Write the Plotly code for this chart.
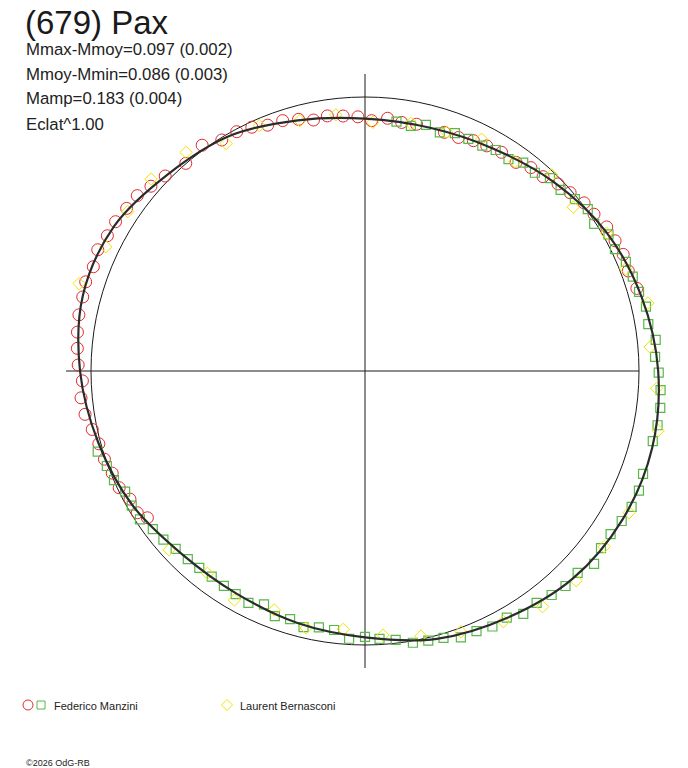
import plotly.graph_objects as go

# =====================================================================
# (679) Pax - courbe de lumiere en representation polaire
# angle = phase de rotation (deg), rayon = flux relatif (1 = cercle ref.)
# =====================================================================

# courbe ajustee (lue tous les 15 deg)
fit_phase = [0, 15, 30, 45, 60, 75, 90, 105, 120, 135, 150, 165,
             180, 195, 210, 225, 240, 255, 270, 285, 300, 315, 330, 345, 360]
fit_r = [1.070, 1.045, 1.016, 0.975, 0.937, 0.919, 0.921, 0.947, 0.990, 1.016,
         1.057, 1.066, 1.040, 1.008, 0.980, 0.945, 0.938, 0.952, 0.972, 1.012,
         1.040, 1.072, 1.085, 1.085, 1.070]

# Federico Manzini - session 1 (cercles)
manzini1_phase = [16.9, 20.8, 24.3, 27.5, 30.8, 34.4, 37.5, 41.0, 44.1, 47.5,
                  50.8, 54.1, 58.0, 61.6, 64.8, 68.2, 71.6, 78.2, 81.6, 84.9,
                  88.5, 91.6, 94.9, 98.4, 101.6, 104.8, 108.2, 111.6, 114.9, 118.2,
                  121.8, 125.8, 130.8, 135.7, 139.2, 142.4, 145.7, 149.1, 152.3, 155.6,
                  159.0, 162.3, 165.3, 168.9, 172.3, 175.5, 178.8, 182.0, 185.4, 188.8,
                  192.1, 195.3, 198.7, 202.0, 205.4, 208.6, 211.9, 214.0]
manzini1_r = [1.037, 1.028, 1.034, 1.029, 1.027, 1.013, 1.008, 0.992, 0.981, 0.962,
              0.958, 0.940, 0.941, 0.934, 0.929, 0.918, 0.918, 0.920, 0.917, 0.926,
              0.914, 0.928, 0.934, 0.941, 0.935, 0.950, 0.962, 0.965, 0.981, 0.991,
              0.992, 1.016, 1.001, 1.019, 1.032, 1.049, 1.053, 1.061, 1.062, 1.071,
              1.062, 1.070, 1.065, 1.064, 1.059, 1.053, 1.047, 1.032, 1.041, 1.034,
              1.018, 1.007, 1.004, 0.995, 0.993, 0.977, 0.979, 0.958]

# Federico Manzini - session 2 (carres)
manzini2_phase = [82.8, 79.4, 76.1, 72.6, 69.3, 66.0, 62.5, 59.4, 55.9, 52.8,
                  49.4, 46.2, 42.8, 39.3, 36.0, 32.7, 29.3, 26.0, 22.7, 19.4,
                  16.1, 12.9, 9.4, 6.1, 2.8, 359.7, 356.3, 352.9, 349.5, 346.3,
                  343.0, 339.7, 336.4, 333.0, 329.7, 326.4, 323.1, 319.9, 316.5, 313.0,
                  309.8, 306.5, 303.1, 299.9, 296.5, 293.2, 289.8, 286.4, 283.2, 280.0,
                  276.5, 273.1, 270.0, 266.6, 263.2, 259.8, 256.5, 253.2, 249.8, 246.6,
                  243.3, 239.9, 236.7, 233.3, 229.9, 226.7, 223.2, 219.9, 216.7, 213.4,
                  210.0, 206.7, 203.5, 200.2, 196.8]
manzini2_r = [0.917, 0.910, 0.925, 0.913, 0.928, 0.927, 0.927, 0.937, 0.934, 0.955,
              0.953, 0.975, 0.973, 0.990, 1.005, 0.994, 1.019, 1.015, 1.032, 1.036,
              1.041, 1.052, 1.048, 1.067, 1.060, 1.072, 1.081, 1.086, 1.086, 1.081,
              1.096, 1.082, 1.091, 1.092, 1.085, 1.076, 1.077, 1.093, 1.070, 1.073,
              1.064, 1.053, 1.058, 1.038, 1.042, 1.033, 1.033, 1.015, 1.011, 1.007,
              0.988, 0.979, 0.970, 0.979, 0.952, 0.951, 0.961, 0.946, 0.953, 0.928,
              0.947, 0.941, 0.938, 0.936, 0.939, 0.943, 0.948, 0.959, 0.966, 0.984,
              0.983, 0.980, 0.999, 1.004, 1.019]

# Laurent Bernasconi (losanges)
bernasconi_phase = [163.0, 154.4, 146.1, 138.1, 129.3, 121.4, 113.3, 104.6, 96.5, 88.2,
                    79.5, 71.1, 63.3, 54.4, 46.4, 38.2, 29.7, 21.4, 13.5, 4.8,
                    356.6, 348.5, 339.9, 331.8, 323.7, 315.2, 307.0, 298.9, 290.2, 281.9,
                    273.9, 265.2, 257.1, 249.2, 240.3, 232.1, 222.4]
bernasconi_r = [1.091, 1.049, 1.043, 1.049, 1.031, 0.973, 0.975, 0.944, 0.941, 0.908,
                0.919, 0.921, 0.947, 0.940, 0.988, 0.967, 1.015, 1.022, 1.062, 1.044,
                1.066, 1.092, 1.099, 1.094, 1.083, 1.086, 1.077, 1.045, 1.014, 0.989,
                0.966, 0.946, 0.962, 0.933, 0.962, 0.936, 0.968]

title_text = "(679) Pax"
info_lines = ["Mmax-Mmoy=0.097 (0.002)", "Mmoy-Mmin=0.086 (0.003)",
              "Mamp=0.183 (0.004)", "Eclat^1.00"]
observers = ["Federico Manzini", "Laurent Bernasconi"]
credit = "\u00a92026 OdG-RB"

RED = "#e32a2c"
GREEN = "#58b848"
YELLOW = "#f2e400"
FONT = "Liberation Sans, Arial, sans-serif"

# zone du trace en pixels
W, H = 688, 768
L, T, S = 65, 71, 600
R_MAX = 300 / 274   # cercle de reference a 274 px


def px(x):
    return (x - L) / S


def py(y):
    return (T + S - y) / S


fig = go.Figure()

# axes
fig.add_trace(go.Scatterpolar(theta=[180, 0, 0], r=[1.091, 0, 1.0], mode="lines",
                              line=dict(color="#1a1a1a", width=1), hoverinfo="skip"))
fig.add_trace(go.Scatterpolar(theta=[90, 0, 270], r=[1.084, 0, 1.084], mode="lines",
                              line=dict(color="#1a1a1a", width=1), hoverinfo="skip"))

# points
fig.add_trace(go.Scatterpolar(
    theta=manzini1_phase, r=manzini1_r, mode="markers", cliponaxis=False,
    marker=dict(symbol="circle-open", size=12, color=RED, line=dict(width=1)),
    name=observers[0]))
fig.add_trace(go.Scatterpolar(
    theta=manzini2_phase, r=manzini2_r, mode="markers", cliponaxis=False,
    marker=dict(symbol="square-open", size=9, color=GREEN, line=dict(width=1.2)),
    name=observers[0]))
fig.add_trace(go.Scatterpolar(
    theta=bernasconi_phase, r=bernasconi_r, mode="markers", cliponaxis=False,
    marker=dict(symbol="diamond-open", size=9.5, color=YELLOW, line=dict(width=1)),
    name=observers[1]))

# courbe ajustee
fig.add_trace(go.Scatterpolar(
    theta=fit_phase, r=fit_r, mode="lines",
    line=dict(color="#2b2b2b", width=2.2, shape="spline"), hoverinfo="skip"))

annotations = [dict(text=title_text, x=px(23), y=py(22.5), xanchor="left",
                    yanchor="middle", font=dict(size=33, color="#1a1a1a"))]
for i, line in enumerate(info_lines):
    annotations.append(dict(text=line, x=px(24), y=py(49 + 25 * i), xanchor="left",
                            yanchor="middle", font=dict(size=16.8, color="#222")))
annotations.append(dict(text=observers[0], x=px(52), y=py(705.5), xanchor="left",
                        yanchor="middle", font=dict(size=11, color="#222")))
annotations.append(dict(text=observers[1], x=px(238), y=py(705.5), xanchor="left",
                        yanchor="middle", font=dict(size=11, color="#222")))
annotations.append(dict(text=credit, x=px(24), y=py(762.5), xanchor="left",
                        yanchor="middle", font=dict(size=9, color="#222")))
for a in annotations:
    a.update(xref="paper", yref="paper", showarrow=False)

shapes = [
    dict(type="circle", x0=px(23), x1=px(33), y0=py(710), y1=py(700),
         line=dict(color=RED, width=1)),
    dict(type="rect", x0=px(37), x1=px(45), y0=py(709), y1=py(701),
         line=dict(color=GREEN, width=1)),
    dict(type="path",
         path="M {} {} L {} {} L {} {} L {} {} Z".format(
             px(221.5), py(705), px(227), py(699.5), px(232.5), py(705), px(227), py(710.5)),
         line=dict(color=YELLOW, width=1)),
]
for s in shapes:
    s.update(xref="paper", yref="paper")

fig.update_layout(
    width=W, height=H, autosize=False,
    margin=dict(l=L, r=W - L - S, t=T, b=H - T - S),
    paper_bgcolor="white",
    showlegend=False,
    font=dict(family=FONT),
    polar=dict(
        domain=dict(x=[0, 1], y=[0, 1]),
        bgcolor="white",
        radialaxis=dict(range=[0, R_MAX], tickvals=[1.0], showticklabels=False,
                        ticks="", showline=False, showgrid=True,
                        gridcolor="#1a1a1a", gridwidth=1),
        angularaxis=dict(showgrid=False, showline=False, showticklabels=False,
                         ticks=""),
    ),
    annotations=annotations,
    shapes=shapes,
)

# pas de marge de page autour de la figure, pas de barre d'outils
fig.write_html("out.html", config={"displayModeBar": False},
               post_script="document.body.style.margin='0';document.body.style.overflow='hidden';")
